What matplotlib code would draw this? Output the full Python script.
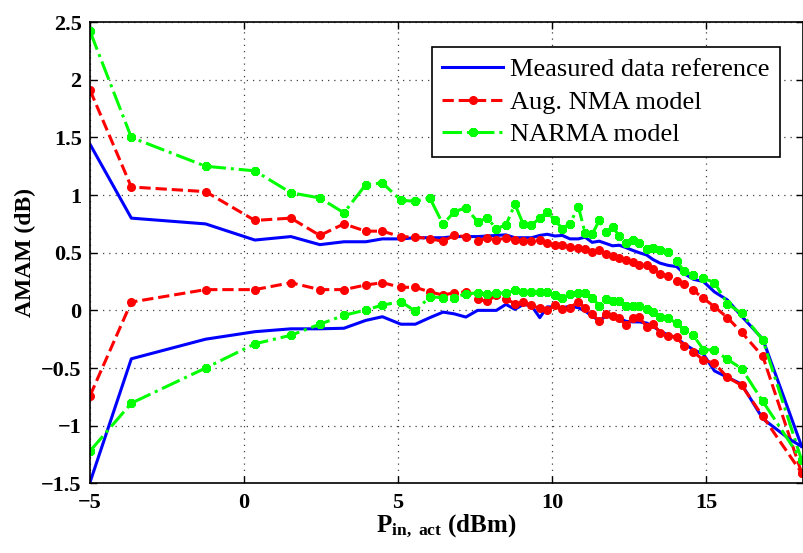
import matplotlib
matplotlib.use("Agg")
import matplotlib.pyplot as plt

# input power grid (dBm) - measured lower branch has one extra point near 17.7
p_in = [-5, -3.66, -1.25, 0.35, 1.52, 2.46, 3.24, 3.95, 4.49, 5.09, 5.56, 6.03, 6.46,
        6.82, 7.2, 7.58, 7.89, 8.19, 8.5, 8.79, 9.07, 9.33, 9.6, 9.84, 10.09, 10.33,
        10.58, 10.85, 11.07, 11.3, 11.53, 11.75, 11.96, 12.18, 12.39, 12.62, 12.83,
        13.07, 13.28, 13.5, 13.77, 14.04, 14.28, 14.58, 14.91, 15.27, 15.69, 16.15,
        16.84, 18.1]
p_in_meas_lo = p_in[:-1] + [17.72] + p_in[-1:]

# measured data (blue)
meas_up = [1.44, 0.80, 0.75, 0.61, 0.64, 0.57, 0.595, 0.595, 0.62, 0.62, 0.63, 0.63, 0.63,
           0.64, 0.64, 0.64, 0.645, 0.65, 0.655, 0.63, 0.63, 0.63, 0.65, 0.66, 0.645, 0.65,
           0.62, 0.62, 0.635, 0.59, 0.60, 0.58, 0.56, 0.565, 0.545, 0.52, 0.50,
           0.48, 0.44, 0.41, 0.39, 0.38, 0.32, 0.27, 0.25, 0.16, 0.09, -0.05,
           -0.25, -1.18]
meas_lo = [-1.49, -0.42, -0.25, -0.185, -0.16, -0.16, -0.155, -0.087, -0.055, -0.12, -0.12, -0.063, -0.015,
           -0.03, -0.058, 0.0, 0.0, 0.0, 0.052, 0.009, 0.052, 0.04, -0.063, 0.03, 0.03, 0.023,
           0.036, 0.023, -0.006, -0.05, -0.09, -0.05, -0.06, -0.065, -0.095, -0.10, -0.10,
           -0.11, -0.14, -0.18, -0.215, -0.24, -0.29, -0.34, -0.38, -0.525, -0.58, -0.64,
           -0.94, -1.12, -1.18]

# augmented NMA model (red)
nma_up = [1.91, 1.07, 1.03, 0.78, 0.80, 0.65, 0.75, 0.687, 0.687, 0.638, 0.638, 0.62, 0.60,
          0.65, 0.64, 0.60, 0.63, 0.61, 0.63, 0.61, 0.60, 0.60, 0.61, 0.58, 0.57, 0.565,
          0.55, 0.54, 0.53, 0.51, 0.52, 0.49, 0.47, 0.45, 0.435, 0.42, 0.39,
          0.39, 0.36, 0.318, 0.30, 0.254, 0.23, 0.175, 0.104, 0.032, -0.063, -0.19,
          -0.40, -1.41]
nma_lo = [-0.74, 0.072, 0.18, 0.18, 0.24, 0.18, 0.18, 0.22, 0.24, 0.20, 0.20, 0.16, 0.133,
          0.153, 0.16, 0.095, 0.08, 0.13, 0.10, 0.058, 0.072, 0.043, 0.017, 0.0, 0.043, 0.009,
          0.023, 0.075, 0.02, -0.035, -0.09, -0.035, -0.05, -0.065, -0.13, -0.07, -0.06,
          -0.142, -0.116, -0.193, -0.22, -0.23, -0.31, -0.36, -0.43, -0.46, -0.58, -0.65,
          -0.92, -1.41]

# NARMA model (green)
narma_up = [2.42, 1.50, 1.25, 1.21, 1.02, 0.975, 0.846, 1.09, 1.105, 0.955, 0.946, 0.975, 0.745,
            0.855, 0.89, 0.77, 0.80, 0.71, 0.74, 0.92, 0.745, 0.74, 0.80, 0.855, 0.78, 0.71,
            0.753, 0.90, 0.67, 0.66, 0.78, 0.68, 0.725, 0.645, 0.585, 0.61, 0.58,
            0.53, 0.54, 0.52, 0.51, 0.43, 0.34, 0.31, 0.28, 0.24, 0.058, -0.026,
            -0.257, -1.30]
narma_lo = [-1.22, -0.805, -0.50, -0.29, -0.216, -0.12, -0.043, 0.003, 0.046, 0.075, -0.006, 0.118, 0.11,
            0.11, 0.145, 0.15, 0.145, 0.15, 0.15, 0.173, 0.155, 0.155, 0.16, 0.155, 0.13, 0.11,
            0.14, 0.147, 0.147, 0.11, 0.04, 0.10, 0.08, 0.08, 0.04, 0.04, 0.035,
            0.014, -0.01, -0.06, -0.07, -0.11, -0.17, -0.216, -0.34, -0.346, -0.424, -0.505,
            -0.79, -1.30]

x_ticks = [-5, 0, 5, 10, 15]
y_ticks = [-1.5, -1, -0.5, 0, 0.5, 1, 1.5, 2, 2.5]

plt.rcParams["font.family"] = "Liberation Serif"
plt.rcParams["font.weight"] = "bold"
plt.rcParams["mathtext.fontset"] = "custom"
plt.rcParams["mathtext.rm"] = "Liberation Serif:bold"
plt.rcParams["mathtext.it"] = "Liberation Serif:bold"
plt.rcParams["mathtext.bf"] = "Liberation Serif:bold"

fig = plt.figure(figsize=(8.04, 5.53), dpi=100)
ax = fig.add_axes([0.112, 0.126, 0.887, 0.834])

blue = (0, 0, 1)
red = (1, 0, 0)
green = (0, 1, 0)
asterisk = (8, 2, 0)

ax.plot(p_in, meas_up, "-", color=blue, lw=2.2, label="Measured data reference")
ax.plot(p_in, nma_up, "--", color=red, lw=2.2, marker="o", ms=5.5,
        label="Aug. NMA model")
ax.plot(p_in, narma_up, "-.", color=green, lw=2.2, marker=asterisk, ms=6.5, mew=2.2,
        label="NARMA model")
ax.plot(p_in_meas_lo, meas_lo, "-", color=blue, lw=2.2)
ax.plot(p_in, nma_lo, "--", color=red, lw=2.2, marker="o", ms=5.5)
ax.plot(p_in, narma_lo, "-.", color=green, lw=2.2, marker=asterisk, ms=6.5, mew=2.2)

ax.set_xlim(-5, 18.15)
ax.set_ylim(-1.5, 2.5)
ax.set_xticks(x_ticks)
ax.set_yticks(y_ticks)
ax.set_xticklabels([str(t).replace("-", "\u2212") for t in x_ticks])
ax.set_yticklabels([("%g" % t).replace("-", "\u2212") for t in y_ticks])
ax.tick_params(direction="in", top=True, right=True, labelsize=16, length=5, width=1)
ax.tick_params(axis="x", pad=7)
ax.tick_params(axis="y", pad=6)
ax.grid(True, linestyle=(0, (1, 4)), color="0.25", linewidth=0.9)

for sp in ax.spines.values():
    sp.set_linewidth(1.2)

ax.set_xlabel(r"$\mathrm{P}_{\mathrm{in,\ act}}$ (dBm)", fontsize=18, fontweight="bold",
              labelpad=0)
ax.set_ylabel("AMAM (dB)", fontsize=17, fontweight="bold", labelpad=4)

leg = ax.legend(loc="upper right", bbox_to_anchor=(0.967, 0.946), borderaxespad=0,
                fancybox=False, framealpha=1, edgecolor="black",
                prop={"family": "Liberation Serif", "weight": "normal", "size": 19},
                handlelength=2.3, handletextpad=0.25, labelspacing=0.35, borderpad=0.4)
leg.get_frame().set_linewidth(1.2)

fig.savefig("out.png", dpi=100)
